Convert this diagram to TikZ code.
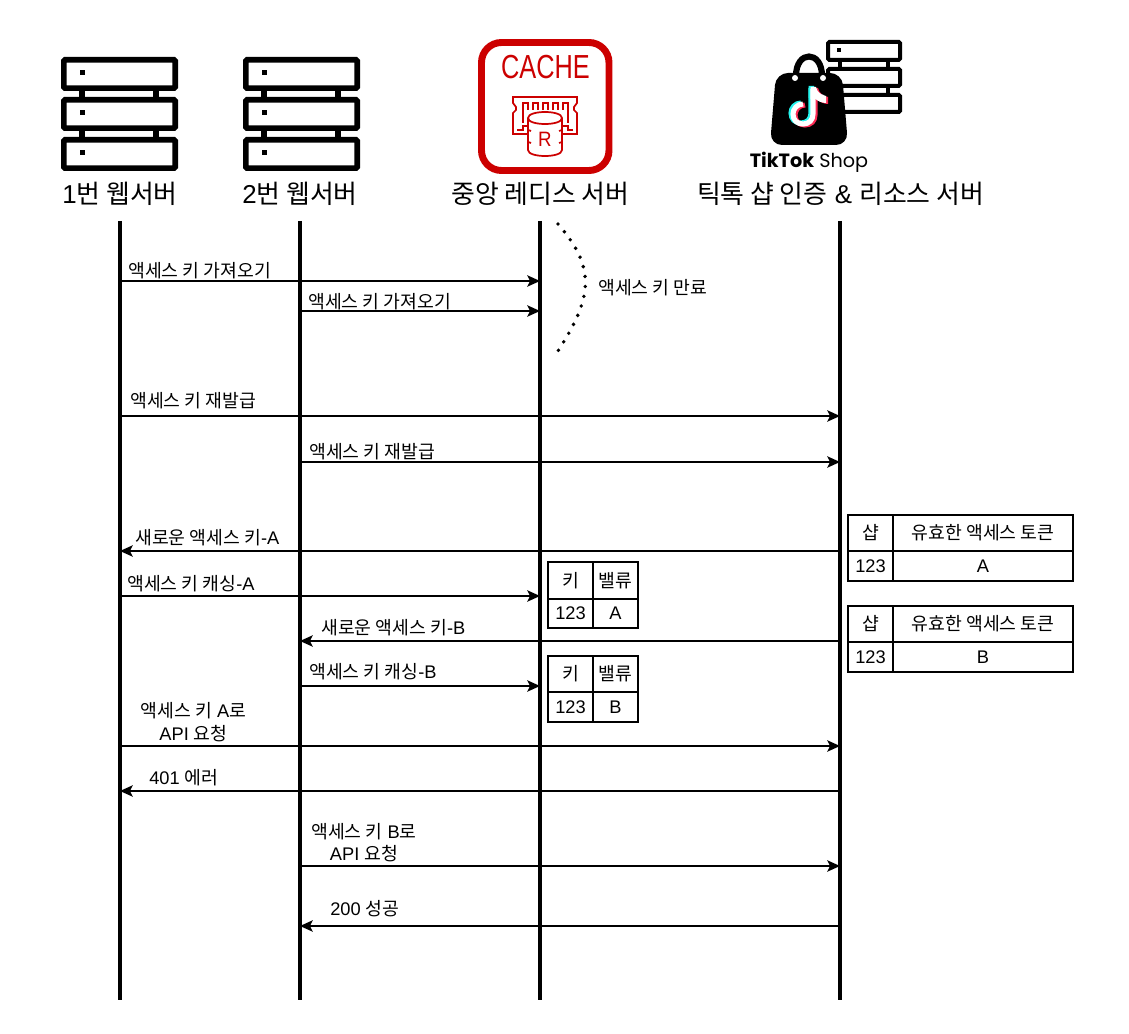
\documentclass[tikz,border=0pt]{standalone}
\usepackage{fontspec}
\setmainfont{Liberation Sans}
\newfontfamily\krf{Noto Sans CJK KR}
\newfontfamily\popf{Poppins}
\newcommand\K[1]{{\krf #1}}
\definecolor{cachered}{HTML}{CC0000}
\definecolor{ttcyan}{HTML}{25F4EE}
\definecolor{ttred}{HTML}{FE2C55}
\usetikzlibrary{arrows.meta}
\tikzset{
  life/.style={line width=2.4pt, black},
  msg/.style={line width=1pt,-{Stealth[length=9.5pt,width=8.5pt,inset=2pt]}},
  lbl/.style={anchor=west,inner sep=0pt,yshift=-0.5pt,font=\fontsize{13.7}{15}\selectfont},
  head/.style={anchor=center,inner sep=0pt,font=\fontsize{19.4}{22}\selectfont},
  cell/.style={draw=black,line width=1pt,inner sep=0pt,font=\fontsize{13.7}{16}\selectfont,anchor=center},
  srv/.style={draw=black,line width=4.2pt,rounded corners=1pt,fill=white},
  srvs/.style={draw=black,line width=3pt,rounded corners=1pt,fill=white},
  chip/.style={draw=cachered,line width=1.3pt,line join=miter},
}
\newcommand\stack[1]{% big server stack with left edge x=#1
  \begin{scope}[xshift=#1*0.75pt]
    \foreach \y in {57,97,137}{
      \draw[srv] (2.8,\y+2.8) rectangle (114.2,\y+31.2);
      \fill (19,\y+13) rectangle (24,\y+18);
    }
    \draw[line width=3.9pt] (21,90)--(21,98) (95,90)--(95,98) (21,130)--(21,138) (95,130)--(95,138);
  \end{scope}}
\begin{document}
\begin{tikzpicture}[x=0.75pt,y=-0.75pt]
\useasboundingbox (0,0) rectangle (1129,1034);
\fill[white] (0,0) rectangle (1129,1034);
% icons
\stack{61}
\stack{243}
% cache
\draw[cachered,line width=5.2pt,rounded corners=15pt,fill=white] (481.5,42.5) rectangle (609,170.5);
\node[name=cachetxt,anchor=center,inner sep=0pt,text=cachered,font=\fontsize{25}{28}\selectfont] at (545.5,67.5) {\scalebox{0.76}[1]{CACHE}};
\draw[chip] (528,134)--(513,134)--(513,113)--(516,110)--(516,107)--(513,103)--(513,97)--(577,97)--(577,103)--(574,107)--(574,110)--(577,113)--(577,134)--(562,134);
\draw[chip] (523,123)--(523,103)--(528,103)--(528,110) (533,110)--(533,103)--(538,103)--(538,110)
            (543,110)--(543,103)--(548,103)--(548,110) (553,110)--(553,103)--(558,103)--(558,110)
            (563,110)--(563,103)--(568,103)--(568,123)
            (517,130)--(523,130)--(523,126)--(528,126) (573,130)--(568,130)--(568,126)--(562,126);
\draw[chip,fill=white] (528,118) -- (528,150) .. controls (528,158) and (562,158) .. (562,150) -- (562,118) .. controls (562,110) and (528,110) .. (528,118) .. controls (528,126) and (562,126) .. (562,118);
\draw[chip] (528,130)--(531,131) (562,130)--(559,131) (528,142)--(531,143) (562,142)--(559,143);
\node[name=rtxt,anchor=center,inner sep=0pt,text=cachered,font=\fontsize{15.6}{18}\selectfont] at (545,139.5) {\scalebox{0.9}[1]{R}};
% tiktok server stack
\foreach \y/\h in {40/22,67/21,93/21}{
  \draw[srvs] (828,\y+2) rectangle (900,\y+\h-2);
}
\draw[line width=2.8pt] (840,60)--(840,69) (888,60)--(888,69) (888,86)--(888,95);
\fill (837,48) rectangle (841,52);
% bag
\draw[line width=4.6pt] (796,76) .. controls (796,50) and (822,50) .. (822,76);
\fill[rounded corners=9pt] (776,73) -- (842,73) -- (848,145) -- (770,145) -- cycle;
\fill[white] (795,78) circle[radius=3];
\fill[white] (823,78) circle[radius=3];
\foreach \dx/\dy/\c in {-2/-1/ttcyan,2/1/ttred,0/0/white}{
  \begin{scope}[xshift=\dx*0.75pt,yshift=-\dy*0.75pt]
    \draw[\c,line width=3.8pt] (803,104) .. controls (797,104) and (793,109) .. (793,114) .. controls (793,120) and (797,124) .. (803,124) .. controls (809,124) and (813,120) .. (813,114) -- (813,89);
    \fill[\c] (810.5,87) -- (816,87) .. controls (817,92) and (821,95) .. (826,96) -- (826,103) .. controls (822,103) and (818,101) .. (815.5,99) -- (810.5,99) -- cycle;
  \end{scope}
}
\node[name=tts,anchor=center,inner sep=0pt,font=\fontsize{14.4}{18}\selectfont] at (809,162) {\popf\textbf{TikTok} Shop};
% headers
\node[head,name=h1] at (120,193.5) {1\K{번 웹서버}};
\node[head,name=h2] at (300,193.5) {2\K{번 웹서버}};
\node[head,name=h3] at (540.5,193.5) {\K{중앙 레디스 서버}};
\node[head,name=h4] at (840.5,193.5) {\K{틱톡 샵 인증} \& \K{리소스 서버}};
% lifelines
\coordinate (L1) at (120,221); \coordinate (E1) at (120,1000);
\coordinate (L2) at (300,221); \coordinate (E2) at (300,1000);
\coordinate (L3) at (540,221); \coordinate (E3) at (540,1000);
\coordinate (L4) at (840,221); \coordinate (E4) at (840,1000);
\foreach \i in {1,2,3,4}{\draw[life] (L\i) -- (E\i);}
% expiry curve
\coordinate (ca) at (558,224); \coordinate (cb) at (554,357);
\draw[line width=2.9pt,dash pattern=on 0pt off 7.5pt,line cap=round] (ca) .. controls (598,270) and (592,300) .. (cb);
\node[lbl,name=expl] at (598,287) {\K{액세스 키 만료}};
% messages
\newcommand\msgline[3]{\draw[msg] (L#1 |- 0,#3) -- (L#2 |- 0,#3);}
\msgline{1}{3}{281}
\msgline{2}{3}{311}
\msgline{1}{4}{416}
\msgline{2}{4}{462}
\msgline{4}{1}{551}
\msgline{1}{3}{596}
\msgline{4}{2}{641}
\msgline{2}{3}{686}
\msgline{1}{4}{746}
\msgline{4}{1}{791}
\msgline{2}{4}{866}
\msgline{4}{2}{926}
\node[lbl,name=m1] at (128,270) {\K{액세스 키 가져오기}};
\node[lbl,name=m2] at (308,301) {\K{액세스 키 가져오기}};
\node[lbl,name=m3] at (130,400) {\K{액세스 키 재발급}};
\node[lbl,name=m4] at (309,451) {\K{액세스 키 재발급}};
\node[lbl,name=m5] at (135,537) {\K{새로운 액세스 키}-A};
\node[lbl,name=m6] at (127,583) {\K{액세스 키 캐싱}-A};
\node[lbl,name=m7] at (321,627) {\K{새로운 액세스 키}-B};
\node[lbl,name=m8] at (309,671) {\K{액세스 키 캐싱}-B};
\node[lbl,anchor=center,name=m9] at (193.5,710) {\K{액세스 키} A\K{로}};
\node[lbl,anchor=center,name=m9b] at (193.5,733) {API \K{요청}};
\node[lbl,name=m10] at (149,777) {401 \K{에러}};
\node[lbl,anchor=center,name=m11] at (364,831) {\K{액세스 키} B\K{로}};
\node[lbl,anchor=center,name=m11b] at (364,853) {API \K{요청}};
\node[lbl,name=m12] at (330,908) {200 \K{성공}};
% tables
\newcommand\cellbox[6]{% name, x1, y1, x2, y2, text
  \path[draw=black,line width=1pt] (#2,#3) rectangle (#4,#5);
  \node[cell,draw=none,name=#1] at ({(#2+#4)/2},{(#3+#5)/2}) {#6};}
\cellbox{a1}{848}{515}{893}{551}{\K{샵}}
\cellbox{a2}{893}{515}{1073}{551}{\K{유효한 액세스 토큰}}
\cellbox{a3}{848}{551}{893}{581}{123}
\cellbox{a4}{893}{551}{1073}{581}{A}
\cellbox{b1}{848}{606}{893}{642}{\K{샵}}
\cellbox{b2}{893}{606}{1073}{642}{\K{유효한 액세스 토큰}}
\cellbox{b3}{848}{642}{893}{672}{123}
\cellbox{b4}{893}{642}{1073}{672}{B}
\cellbox{c1}{548}{562}{593}{599}{\K{키}}
\cellbox{c2}{593}{562}{638}{599}{\K{밸류}}
\cellbox{c3}{548}{599}{593}{628}{123}
\cellbox{c4}{593}{599}{638}{628}{A}
\cellbox{d1}{548}{656}{593}{692}{\K{키}}
\cellbox{d2}{593}{656}{638}{692}{\K{밸류}}
\cellbox{d3}{548}{692}{593}{722}{123}
\cellbox{d4}{593}{692}{638}{722}{B}
\end{tikzpicture}
\end{document}
